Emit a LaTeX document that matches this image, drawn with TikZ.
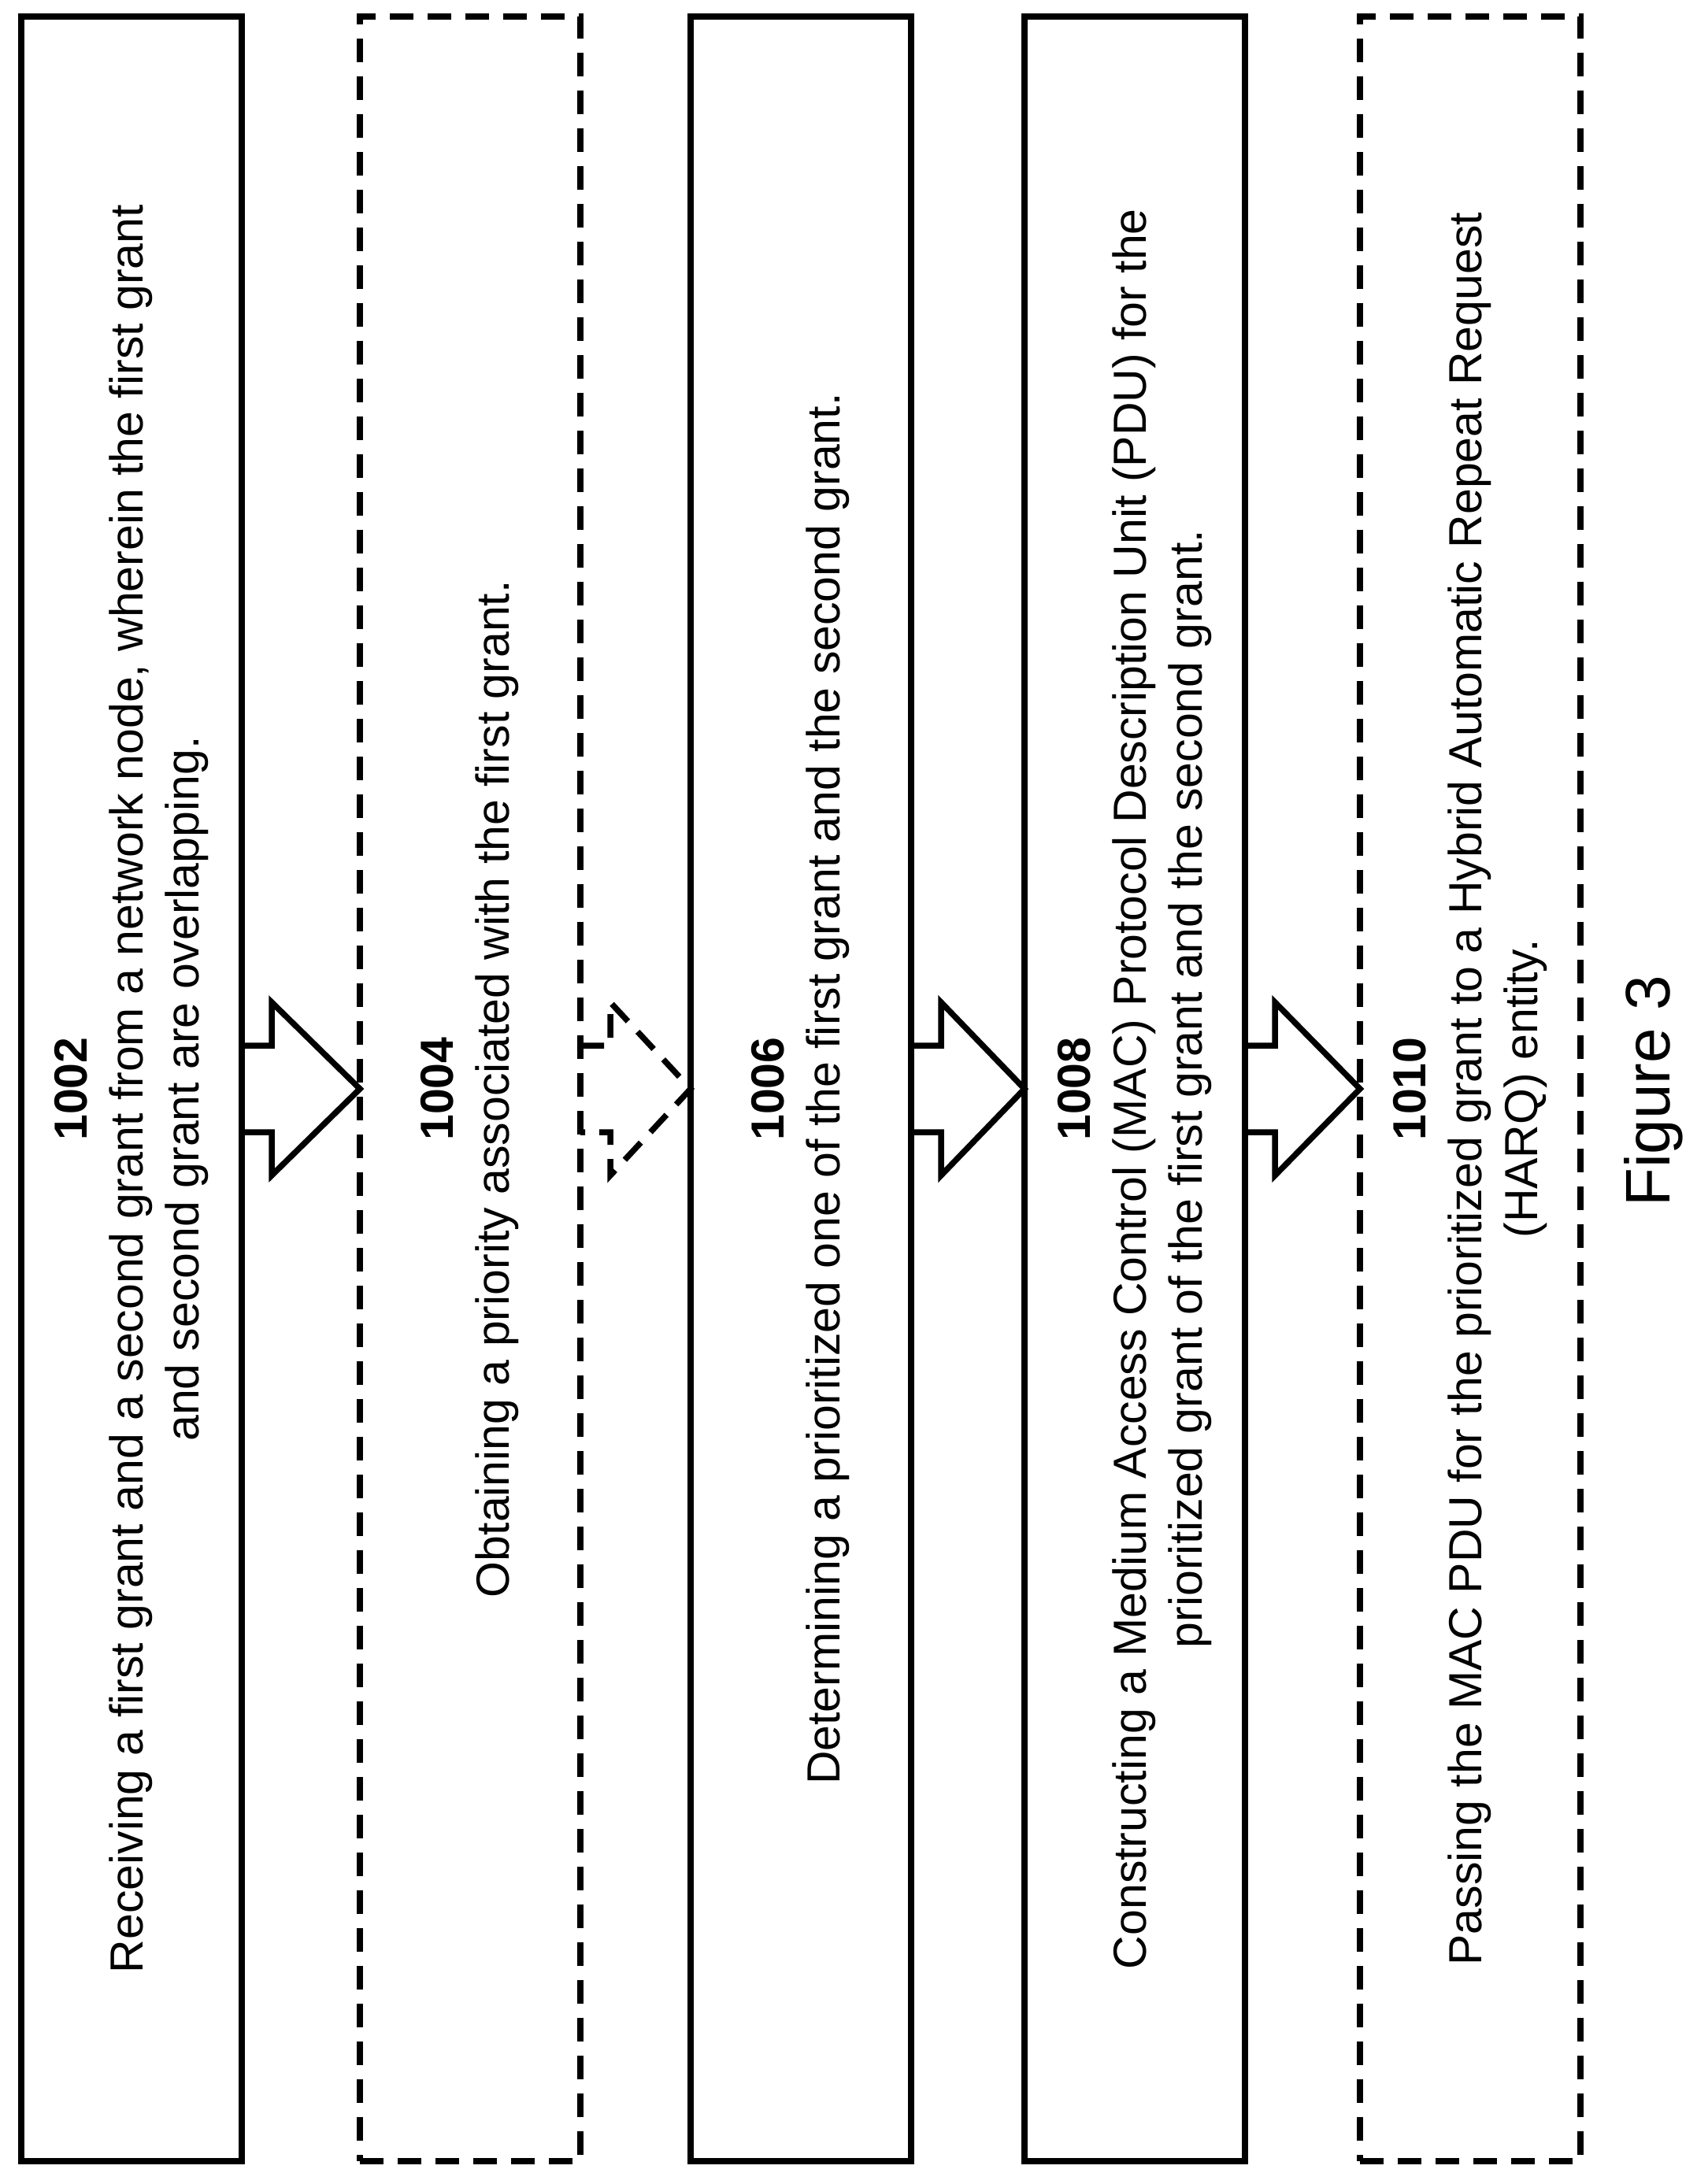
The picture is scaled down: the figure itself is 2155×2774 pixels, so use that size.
\documentclass[tikz,border=0pt]{standalone}
\usepackage{fontspec}
\setmainfont{Liberation Sans}
\usetikzlibrary{calc}
\begin{document}
\begin{tikzpicture}[x=1pt,y=-1pt,
  stepbox/.style={draw,line width=7.5pt,minimum width=280pt,minimum height=2724pt,outer sep=0pt,inner sep=0pt},
  dashed style/.style={dash pattern=on 30pt off 18pt},
  dashbox/.style={stepbox,dashed style},
  lbl/.style={rotate=90,align=center,font=\fontsize{59}{71}\selectfont},
  blockarrow/.style={line width=7.5pt,line join=miter}]
\useasboundingbox (0,0) rectangle (2155,2774);
\node[stepbox] (b1) at (167,1383) {};
\node[dashbox] (b2) at (597,1383) {};
\node[stepbox] (b3) at (1017,1383) {};
\node[stepbox] (b4) at (1441,1383) {};
\node[dashbox] (b5) at (1867,1383) {};
\node[lbl] (t1) at (b1) {\textbf{1002}\\Receiving a first grant and a second grant from a network node, wherein the first grant\\and second grant are overlapping.};
\node[lbl] (t2) at (b2) {\textbf{1004}\\Obtaining a priority associated with the first grant.};
\node[lbl] (t3) at (b3) {\textbf{1006}\\Determining a prioritized one of the first grant and the second grant.};
\node[lbl] (t4) at (b4) {\textbf{1008}\\Constructing a Medium Access Control (MAC) Protocol Description Unit (PDU) for the\\prioritized grant of the first grant and the second grant.};
\node[lbl] (t5) at (b5) {\textbf{1010}\\Passing the MAC PDU for the prioritized grant to a Hybrid Automatic Repeat Request\\(HARQ) entity.};
\node[rotate=90,font=\fontsize{80}{90}\selectfont] (fig) at (2100,1386) {Figure 3};
\foreach \a/\b/\st in {b1/b2/solid,b2/b3/dashed style,b3/b4/solid,b4/b5/solid}{
  \draw[blockarrow,\st] ($(\a.east)+(0,-55)$) -- ++(38,0) -- ++(0,-55)
    -- ($(\b.west)$) -- ($(\a.east)+(38,110)$) -- ++(0,-55) -- ($(\a.east)+(0,55)$);
}
\end{tikzpicture}
\end{document}
